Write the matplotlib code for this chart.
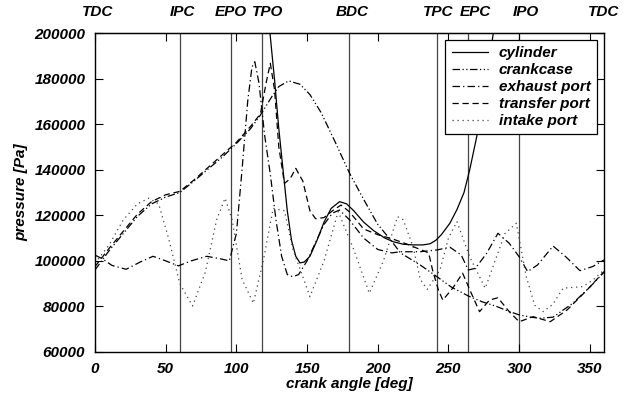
import numpy as np
import matplotlib.pyplot as plt

plt.rcParams['font.family'] = ['Liberation Sans', 'DejaVu Sans']
plt.rcParams['font.weight'] = 'bold'
plt.rcParams['font.style'] = 'italic'
plt.rcParams['axes.labelweight'] = 'bold'
plt.rcParams['font.size'] = 11

# port timing (crank angle, deg)
event_angles = [60, 96, 118, 180, 242, 264, 300]
event_names = ['TDC', 'IPC', 'EPO', 'TPO', 'BDC', 'TPC', 'EPC', 'IPO', 'TDC']
name_angles = [2, 62, 96, 122, 182, 243, 269, 305, 360]

# cylinder
cyl_deg = [115, 120, 123, 125, 127, 130, 133, 136, 139, 142, 145, 148, 152, 157,
           162, 167, 173, 178, 183, 190, 197, 205, 211, 218, 225, 232, 237, 241,
           245, 251, 256, 261, 265, 270, 275, 280, 283, 288]
cyl_p = [260000, 225000, 205000, 192000, 179400, 158000, 140000, 122000, 109000,
         102000, 99100, 99500, 102000, 109000, 117000, 123000, 126000, 125000,
         122000, 117000, 113300, 110000, 108400, 107300, 107000, 107000, 107500,
         109000, 111500, 116500, 122500, 130000, 139900, 154500, 174000, 193000,
         205000, 230000]

# crankcase
cc_deg = [0, 10, 20, 30, 40, 50, 60, 70, 80, 90, 100, 110, 117, 125, 130, 137,
          145, 152, 160, 170, 180, 190, 200, 210, 216, 230, 242, 252, 264, 274,
          284, 292, 300, 308, 315, 324, 338, 350, 360]
cc_p = [96000, 104500, 112000, 119500, 125000, 128000, 130000, 135000, 140300,
        145500, 151500, 158000, 164000, 172000, 176500, 179000, 177500, 173000,
        165000, 152000, 138500, 127000, 116000, 108500, 103500, 98200, 93000,
        88500, 84600, 82000, 80000, 78000, 76300, 75300, 74800, 75300, 81400,
        88500, 95000]

# exhaust port
ex_deg = [0, 5, 12, 22, 32, 41, 50, 59, 68, 79, 88, 95, 100, 104, 108, 111, 113,
          116, 120, 124, 128, 132, 136, 140, 144, 150, 156, 162, 168, 173, 180,
          190, 200, 210, 216, 230, 242, 251, 259, 264, 269, 277, 285, 293, 300,
          306, 313, 324, 333, 343, 352, 360]
ex_p = [102500, 101000, 98000, 96300, 99500, 102000, 100000, 97800, 100000,
        102000, 101000, 100000, 112000, 140000, 170000, 185000, 187400, 178000,
        155000, 138000, 118000, 102000, 94000, 93000, 94000, 100000, 108000,
        116000, 121000, 122300, 118000, 110000, 105000, 103500, 104000, 104000,
        104800, 106000, 102600, 96000, 96700, 103300, 112100, 107700, 101800,
        95300, 98200, 106500, 101800, 95700, 97500, 100400]

# transfer port
tr_deg = [0, 10, 20, 30, 40, 50, 60, 70, 80, 90, 100, 110, 117, 121, 124, 127,
          130, 134, 138, 142, 147, 152, 156, 162, 168, 174, 180, 190, 200, 211,
          220, 230, 236, 239, 243, 246, 253, 260, 266, 272, 279, 285, 293, 300,
          310, 322, 334, 348, 360]
tr_p = [97500, 105500, 113000, 120500, 126000, 129000, 130500, 135500, 141000,
        146500, 152000, 159000, 164500, 178000, 186700, 175000, 150000, 134000,
        136000, 140600, 135000, 122000, 118500, 119000, 122000, 124500, 121500,
        114000, 111500, 109500, 107500, 105000, 103500, 95300, 87000, 82800,
        88000, 94600, 86000, 77700, 82800, 83800, 77700, 73300, 75500, 73300,
        78500, 87200, 95300]

# intake port
in_deg = [0, 10, 20, 30, 38, 45, 52, 60, 69, 78, 86, 92, 97, 104, 112, 119, 126,
          134, 140, 152, 162, 172, 183, 194, 204, 214, 218, 225, 230, 235, 244,
          250, 256, 265, 276, 284, 290, 298, 305, 311, 317, 324, 331, 345, 352,
          360]
in_p = [99000, 107000, 118000, 125000, 127500, 125000, 110000, 90000, 80200,
        95000, 118000, 127500, 118000, 92000, 81400, 100000, 123000, 122000,
        105000, 84300, 100000, 121600, 105000, 85800, 100000, 119400, 118000,
        106200, 92000, 87500, 96000, 110000, 117200, 101800, 88000, 101800,
        112000, 116500, 93100, 80500, 77700, 81000, 88000, 88700, 91500, 96000]

fig = plt.figure(figsize=(6.3, 3.94), dpi=100)
ax = fig.add_axes([0.1508, 0.1066, 0.8079, 0.8096])

for a in event_angles:
    ax.axvline(a, color='#444444', lw=0.9, zorder=1)

lw = 0.9
ax.plot(cyl_deg, cyl_p, color='black', lw=lw, ls='-', label='cylinder')
ax.plot(cc_deg, cc_p, color='black', lw=lw, ls=(0, (6, 2, 1, 2, 1, 2)), label='crankcase')
ax.plot(ex_deg, ex_p, color='black', lw=lw, ls=(0, (6, 2.5, 1, 2.5)), label='exhaust port')
ax.plot(tr_deg, tr_p, color='black', lw=lw, ls=(0, (5, 3)), label='transfer port')
ax.plot(in_deg, in_p, color='#444444', lw=lw, ls=(0, (1, 3)), label='intake port')

ax.set_xlim(0, 360)
ax.set_ylim(60000, 200000)
ax.set_xticks(np.arange(0, 361, 50))
ax.set_yticks(np.arange(60000, 200001, 20000))
ax.tick_params(direction='in', length=6, width=0.8, top=True, right=True,
               pad=7, labelsize=11)
for s in ax.spines.values():
    s.set_linewidth(1.0)

ax.set_xlabel('crank angle [deg]', labelpad=1)
ax.set_ylabel('pressure [Pa]', labelpad=4)

top = ax.secondary_xaxis('top')
top.set_xticks(name_angles)
top.set_xticklabels(event_names)
top.tick_params(length=0, pad=10, labelsize=11)

leg = ax.legend(loc='upper right', bbox_to_anchor=(0.986, 0.978), fancybox=False,
                edgecolor='black', framealpha=1, handlelength=2.4,
                handletextpad=0.7, labelspacing=0.2, borderpad=0.4,
                borderaxespad=0, fontsize=11)
leg.get_frame().set_linewidth(0.9)

fig.savefig('out.png', dpi=100)
